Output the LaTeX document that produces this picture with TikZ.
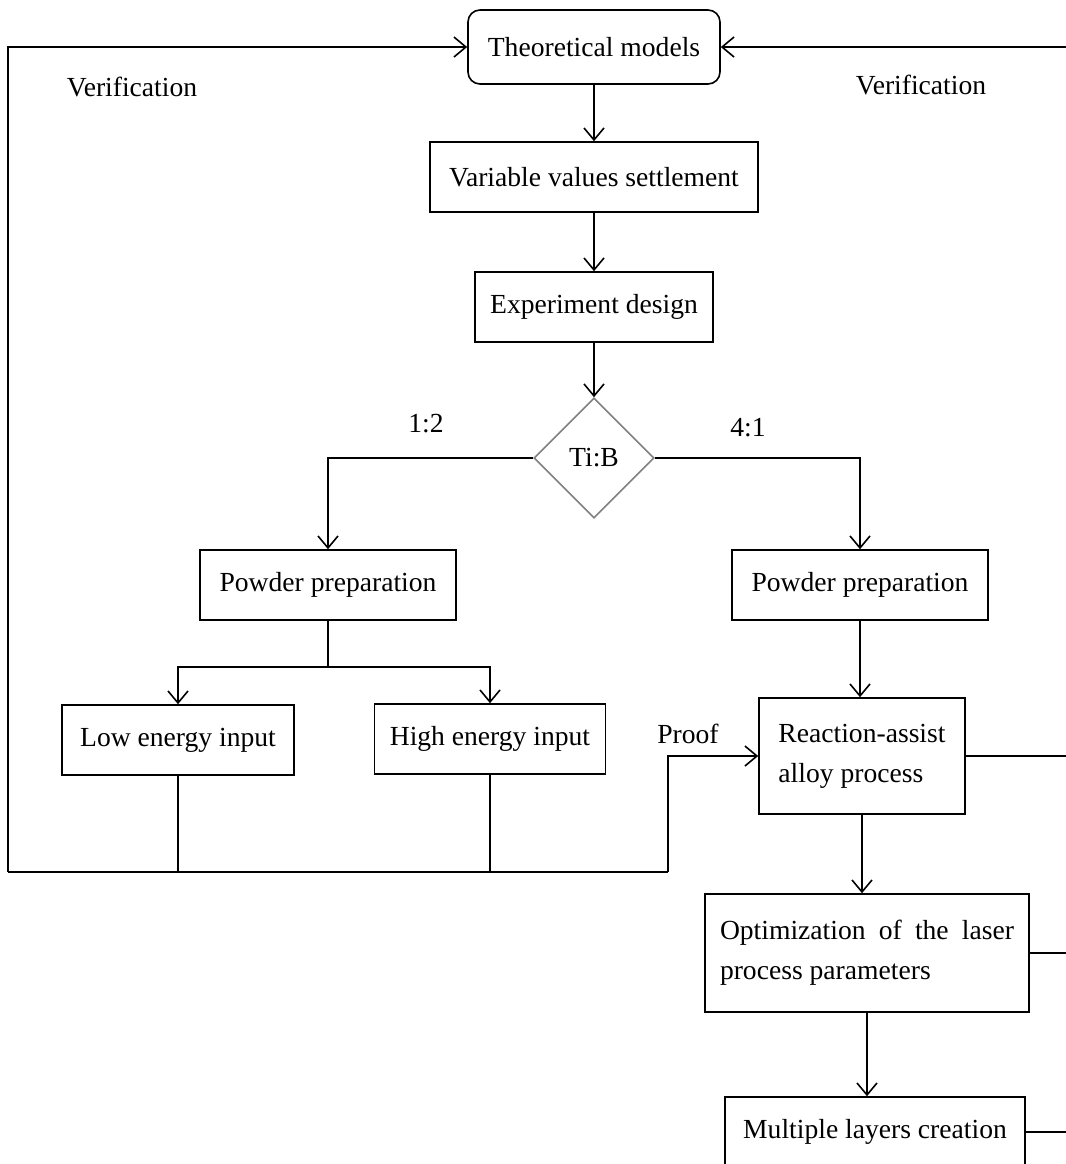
\documentclass[tikz,border=0pt]{standalone}
\usepackage{fontspec}
\setmainfont{Liberation Serif}
\usetikzlibrary{arrows.meta,shapes.geometric}
\tikzset{
  flow/.style={-{Straight Barb[length=6pt,width=10pt]}, line width=0.8pt},
  link/.style={line width=0.8pt},
  base text/.style={font=\fontsize{13.8}{20}\selectfont},
  model box/.style={base text, draw, line width=0.8pt, rounded corners=6pt,
    minimum width=126pt, minimum height=37pt, inner sep=0pt},
  step box/.style={base text, draw, line width=0.8pt, minimum height=35pt,
    inner sep=0pt},
  choice/.style={base text, diamond, draw=black!50, line width=0.8pt,
    minimum width=60pt, minimum height=60pt, inner sep=0pt},
  side label/.style={base text}
}
\begin{document}
\begin{tikzpicture}[x=0.5pt, y=-0.5pt]
  \useasboundingbox (0,0) rectangle (1066,1164);
  \clip (0,0) rectangle (1066,1164);
  \coordinate (edge) at (1066,0);

  \node[model box] (models) at (594,47) {Theoretical models};
  \node[step box, minimum width=164pt] (values) at (594,177)
    {Variable values settlement};
  \node[step box, minimum width=119pt] (design) at (594,307)
    {Experiment design};
  \node[choice] (ratio) at (594,458) {Ti:B};
  \node[step box, minimum width=128pt] (prepA) at (328,585)
    {Powder preparation};
  \node[step box, minimum width=128pt] (prepB) at (860,585)
    {Powder preparation};
  \node[step box, minimum width=116pt] (low) at (178,740)
    {Low energy input};
  \node[step box, minimum width=115.5pt] (high) at (490,739)
    {High energy input};
  \node[step box, minimum width=103pt, minimum height=58pt, align=left]
    (alloy) at (862,756) {Reaction-assist\\alloy process};
  \node[step box, text width=147pt, align=justify, minimum height=59pt,
    inner xsep=7.5pt] (laser) at (867,953)
    {Optimization of the laser process parameters};
  \node[step box, minimum width=150pt] (layers) at (875,1132)
    {Multiple layers creation};

  \node[side label] (verifL) at (132,87) {Verification};
  \node[side label] (verifR) at (921,85) {Verification};
  \node[side label] (ratioL) at (426,424) {1:2};
  \node[side label] (ratioR) at (748,428) {4:1};
  \node[side label] (proof) at (688,734) {Proof};

  \draw[flow] (models) -- (values);
  \draw[flow] (values) -- (design);
  \draw[flow] (design) -- (ratio);
  \draw[flow] (ratio.west) -| (prepA.north);
  \draw[flow] (ratio.east) -| (prepB.north);

  \coordinate (split) at (328,667);
  \draw[link] (prepA.south) -- (split);
  \draw[flow] (split) -| (low.north);
  \draw[flow] (split) -| (high.north);

  \draw[flow] (prepB.south) -- (prepB.south |- alloy.north);
  \draw[flow] (alloy.south) -- (alloy.south |- laser.north);
  \draw[flow] (laser.south) -- (laser.south |- layers.north);

  % feedback loop
  \coordinate (loopL) at (8,872);
  \coordinate (loopR) at (668,872);
  \draw[link] (low.south) -- (low.south |- loopL);
  \draw[link] (high.south) -- (high.south |- loopL);
  \draw[link] (loopL) -- (loopR);
  \draw[flow] (loopR) |- (alloy.west);
  \draw[flow] (loopL) |- (models.west);

  \draw[flow] (models.east -| edge) -- (models.east);
  \draw[link] (alloy.east) -- (alloy.east -| edge);
  \draw[link] (laser.east) -- (laser.east -| edge);
  \draw[link] (layers.east) -- (layers.east -| edge);
\end{tikzpicture}
\end{document}
